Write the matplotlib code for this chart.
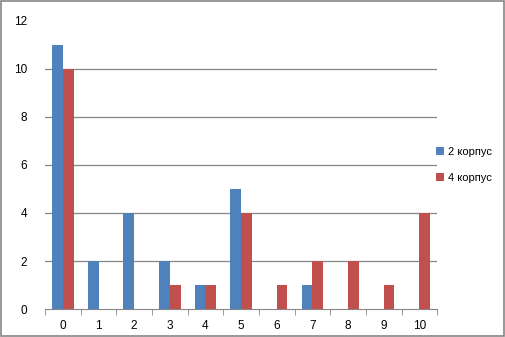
import matplotlib
matplotlib.use("Agg")
import matplotlib.pyplot as plt
from matplotlib.patches import Rectangle
import numpy as np

# data
categories = ["0", "1", "2", "3", "4", "5", "6", "7", "8", "9", "10"]
series_names = ["2 корпус", "4 корпус"]
korpus2 = [11, 2, 4, 2, 1, 5, 0, 1, 0, 0, 0]
korpus4 = [10, 0, 0, 1, 1, 4, 1, 2, 2, 1, 4]
colors = ["#4f81bd", "#c0504d"]

plt.rcParams['font.family'] = ['Liberation Sans', 'DejaVu Sans']

fig = plt.figure(figsize=(5.06, 3.37), dpi=100)
ax = fig.add_axes([0.089, 0.083, 0.775, 0.855])

x = np.arange(len(categories))
w = 0.3
ax.bar(x - w / 2, korpus2, w, color=colors[0], label=series_names[0], zorder=3)
ax.bar(x + w / 2, korpus4, w, color=colors[1], label=series_names[1], zorder=3)

ax.set_xlim(-0.5, len(categories) - 0.5)
ax.set_ylim(0, 12)
ax.set_yticks(range(0, 13, 2))
ax.set_xticks(x)
ax.set_xticklabels(categories)
ax.set_xticks(np.arange(-0.5, len(categories), 1), minor=True)

# gridlines (skip the top one, as in the reference)
for yv in range(2, 12, 2):
    ax.axhline(yv, color="#868686", lw=0.9, zorder=1)

for s in ["top", "right", "left"]:
    ax.spines[s].set_visible(False)
ax.spines["bottom"].set_color("#868686")
ax.tick_params(axis="y", length=0, pad=13, labelsize=8.5)
ax.tick_params(axis="x", which="major", length=0, pad=8, labelsize=8.5)
ax.tick_params(axis="x", which="minor", length=4, color="#868686")

leg = ax.legend(loc="center left", bbox_to_anchor=(0.975, 0.5), frameon=False,
                fontsize=8, handlelength=0.7, handleheight=0.7,
                handletextpad=0.35, labelspacing=1.45, borderaxespad=0.4)

fig.patches.append(Rectangle((0.002, 0.003), 0.995, 0.994, transform=fig.transFigure,
                             fill=False, edgecolor="#868686", lw=1.2))

fig.savefig("out.png", dpi=100)
